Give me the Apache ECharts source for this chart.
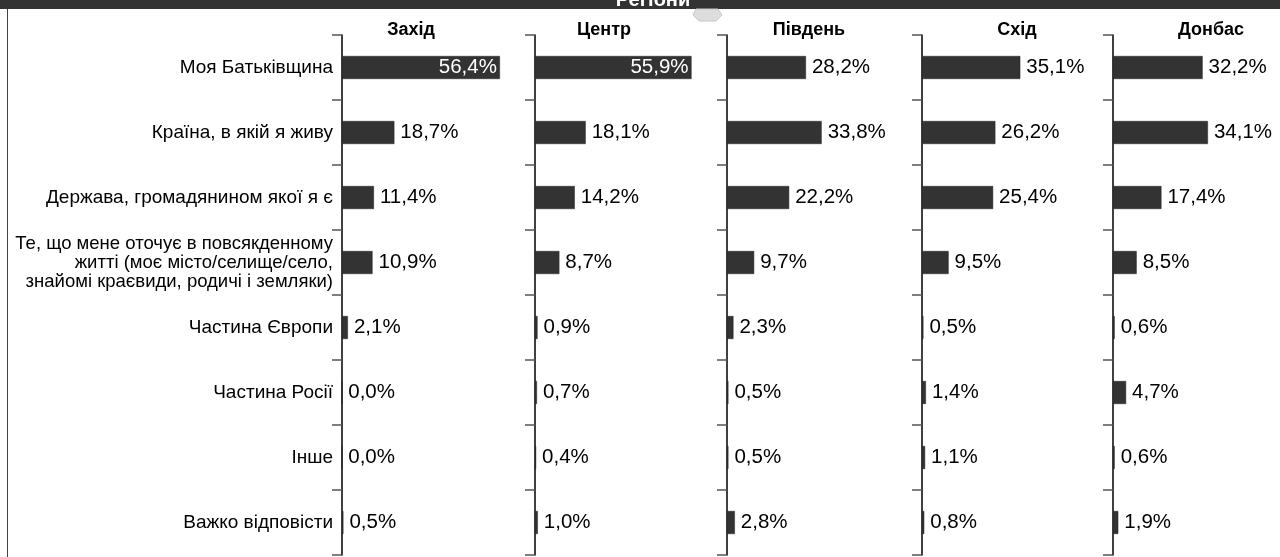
<!DOCTYPE html>
<html lang="uk">
<head>
    <meta charset="UTF-8">
    <title>Регіони</title>
    <script src="https://cdn.jsdelivr.net/npm/echarts@6/dist/echarts.min.js"></script>
    <style>
        html, body { margin: 0; padding: 0; background: #fff; }
        #main { width: 1280px; height: 557px; }
    </style>
</head>
<body>
<div id="main"></div>

<script type="text/javascript">
    // дані
    var categories = [
        'Моя Батьківщина',
        'Країна, в якій я живу',
        'Держава, громадянином якої я є',
        'Те, що мене оточує в повсякденному\nжитті (моє місто/селище/село,\nзнайомі краєвиди, родичі і земляки)',
        'Частина Європи',
        'Частина Росії',
        'Інше',
        'Важко відповісти'
    ];
    var regions = ['Захід', 'Центр', 'Південь', 'Схід', 'Донбас'];

    var zakhid  = [56.4, 18.7, 11.4, 10.9, 2.1, 0.0, 0.0, 0.5];
    var tsentr  = [55.9, 18.1, 14.2, 8.7, 0.9, 0.7, 0.4, 1.0];
    var pivden  = [28.2, 33.8, 22.2, 9.7, 2.3, 0.5, 0.5, 2.8];
    var skhid   = [35.1, 26.2, 25.4, 9.5, 0.5, 1.4, 1.1, 0.8];
    var donbas  = [32.2, 34.1, 17.4, 8.5, 0.6, 4.7, 0.6, 1.9];

    var values = [zakhid, tsentr, pivden, skhid, donbas];

    // положення осей та заголовків панелей
    var axisX = [342, 535, 727, 922, 1113];
    var titleX = [406, 599, 804, 1012, 1206];
    var font = '"Liberation Sans", Arial, sans-serif';

    function fmt(v) {
        return v.toFixed(1).replace('.', ',') + '%';
    }

    // довгий трирядковий підпис трохи меншим шрифтом, щоб не налазив на рамку
    var catData = categories.map(function (c) {
        var multi = c.indexOf('\n') >= 0;
        return {value: c, textStyle: {fontSize: multi ? 18.5 : 19, lineHeight: 19}};
    });

    var myChart = echarts.init(document.getElementById('main'), null, {renderer: 'canvas'});

    var grids = [], xAxes = [], yAxes = [], series = [], titles = [];

    for (var i = 0; i < regions.length; i++) {
        grids.push({left: axisX[i], top: 35, width: 168, height: 520});
        xAxes.push({
            gridIndex: i, type: 'value', min: 0, max: 60, show: false
        });
        yAxes.push({
            gridIndex: i,
            type: 'category',
            inverse: true,
            data: catData,
            axisLine: {show: true, lineStyle: {color: '#000', width: 1.5}},
            axisTick: {show: true, length: 10, lineStyle: {color: '#555', width: 1.5}},
            axisLabel: {
                show: i === 0,
                color: '#000',
                fontFamily: font,
                fontSize: 19,
                lineHeight: 19,
                margin: 9
            },
            splitLine: {show: false}
        });
        series.push({
            type: 'bar',
            xAxisIndex: i,
            yAxisIndex: i,
            barWidth: 23,
            data: values[i].map(function (v) {
                var big = v >= 50;
                return {
                    value: v,
                    label: {
                        position: big ? 'insideRight' : 'right',
                        color: big ? '#fff' : '#000',
                        distance: big ? 3 : 6
                    }
                };
            }),
            itemStyle: {color: '#333', borderColor: '#222', borderWidth: 0.5},
            label: {
                show: true,
                fontFamily: font,
                fontSize: 20.5,
                formatter: function (p) { return fmt(p.value); }
            },
            silent: true,
            animation: false
        });
        titles.push({
            text: regions[i],
            left: titleX[i],
            top: 16,
            textAlign: 'center',
            textStyle: {fontFamily: font, fontSize: 18, fontWeight: 'bold', color: '#000'}
        });
    }

    var option = {
        backgroundColor: '#fff',
        animation: false,
        title: titles,
        grid: grids,
        xAxis: xAxes,
        yAxis: yAxes,
        series: series,
        graphic: [
            {type: 'rect', left: 0, top: 0, shape: {width: 1280, height: 9}, style: {fill: '#333'}},
            {type: 'text', x: 653, y: -10, style: {text: 'Регіони', fill: '#fff', font: 'bold 20px ' + font, textAlign: 'center'}},
            {type: 'polygon', shape: {points: [[696, 9], [718, 9], [722, 15], [716, 21], [699, 21], [693, 15]]},
                style: {fill: '#ddd', stroke: '#c8c8c8', lineWidth: 1}},
            {type: 'line', shape: {x1: 7.5, y1: 9, x2: 7.5, y2: 557}, style: {stroke: '#444', lineWidth: 1}}
        ]
    };

    myChart.setOption(option);
</script>
</body>
</html>
